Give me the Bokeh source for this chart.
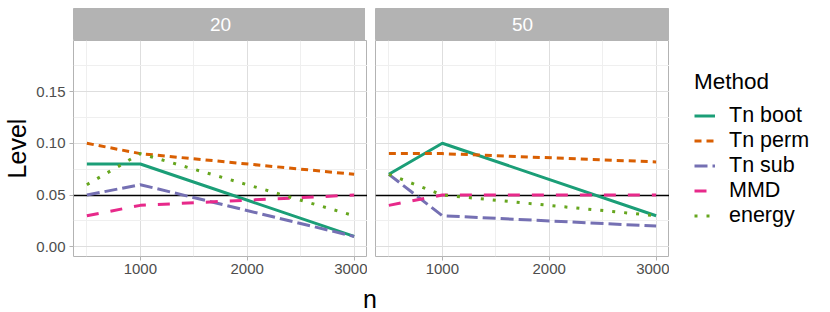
from bokeh.plotting import figure
from bokeh.models import Range1d, FixedTicker, Legend, LegendItem, PrintfTickFormatter
from bokeh.layouts import row, column
from bokeh.embed import file_html
from bokeh.resources import INLINE
from bokeh.core.properties import value

FONT = "Liberation Sans"

# ---------------- data ----------------
n_sizes = [500, 1000, 3000]
facet_labels = ["20", "50"]
method_names = ["Tn boot", "Tn perm", "Tn sub", "MMD", "energy"]

tn_boot_20 = [0.08, 0.08, 0.01]
tn_perm_20 = [0.10, 0.09, 0.07]
tn_sub_20 = [0.05, 0.06, 0.01]
mmd_20 = [0.03, 0.04, 0.05]
energy_20 = [0.06, 0.09, 0.03]

tn_boot_50 = [0.07, 0.10, 0.03]
tn_perm_50 = [0.09, 0.09, 0.082]
tn_sub_50 = [0.07, 0.03, 0.02]
mmd_50 = [0.04, 0.05, 0.05]
energy_50 = [0.07, 0.05, 0.03]

nominal_level = 0.05

x_major = [1000, 2000, 3000]
x_minor = [500, 1500, 2500]
x_tick_labels = ["1000", "2000", "3000"]
y_major = [0.0, 0.05, 0.10, 0.15]
y_minor = [0.025, 0.075, 0.125, 0.175]
y_tick_labels = ["0.00", "0.05", "0.10", "0.15"]

x_title = "n"
y_title = "Level"
legend_title = "Method"

series_by_facet = [
    [tn_boot_20, tn_perm_20, tn_sub_20, mmd_20, energy_20],
    [tn_boot_50, tn_perm_50, tn_sub_50, mmd_50, energy_50],
]

# ---------------- style ----------------
colors = ["#1B9E77", "#D95F02", "#7570B3", "#E7298A", "#66A61E"]
dashes = ["solid", "7 5", "13 5", "12 12", "3 9"]
LINE_W = 3

TOP = 8
FRAME_W = 294
FRAME_H = 216
STRIP_H = 32
LEFT1 = 71
GAP = 8
BOTTOM = 27
TOTAL_H = TOP + STRIP_H + FRAME_H + BOTTOM
LEG_W = 830 - (LEFT1 + FRAME_W + GAP + FRAME_W)
X_RANGE = (375, 3125)
Y_RANGE = (-0.0094, 0.1993)
BORDER = "#B3B3B3"


def make_strip(label, left):
    s = figure(frame_width=FRAME_W, frame_height=STRIP_H, min_border=0,
               min_border_left=left, min_border_top=TOP,
               x_range=Range1d(0, 1), y_range=Range1d(0, 1),
               x_axis_type=None, y_axis_type=None, toolbar_location=None,
               output_backend="svg", background_fill_color=BORDER,
               outline_line_color=BORDER)
    s.text(x=[0.5], y=[0.5], text=[label], text_align="center",
           text_baseline="middle", text_color="white",
           text_font=value(FONT), text_font_size="19px")
    return s


def style_axis(ax):
    ax.axis_line_color = None
    ax.major_tick_in = 0
    ax.major_tick_out = 4
    ax.major_tick_line_color = BORDER
    ax.minor_tick_in = 0
    ax.minor_tick_out = 0
    ax.major_label_text_font = FONT
    ax.major_label_text_font_size = "15px"
    ax.major_label_text_color = "#4D4D4D"


def add_lines(p, series, **kw):
    out = []
    for vals, c, d in zip(series, colors, dashes):
        out.append(p.line(x=n_sizes, y=vals, line_color=c,
                          line_width=LINE_W, line_dash=d, **kw))
    return out


def make_panel(series, left, show_y):
    p = figure(frame_width=FRAME_W, frame_height=FRAME_H, min_border=0,
               min_border_left=left, min_border_bottom=BOTTOM,
               x_range=Range1d(*X_RANGE), y_range=Range1d(*Y_RANGE),
               toolbar_location=None, output_backend="svg",
               y_axis_location="left" if show_y else None,
               outline_line_color=BORDER, outline_line_width=1)
    xt = FixedTicker(ticks=x_major, minor_ticks=x_minor)
    yt = FixedTicker(ticks=y_major, minor_ticks=y_minor)
    p.xaxis.ticker = xt
    p.xaxis.major_label_overrides = dict(zip(x_major, x_tick_labels))
    style_axis(p.xaxis[0])
    p.xaxis.major_label_standoff = 3
    if show_y:
        p.yaxis.ticker = yt
        p.yaxis.formatter = PrintfTickFormatter(format="%.2f")
        p.yaxis.major_label_overrides = dict(zip(y_major, y_tick_labels))
        style_axis(p.yaxis[0])
        p.yaxis.major_label_standoff = 4
        p.yaxis.axis_label = y_title
        p.yaxis.axis_label_text_font = FONT
        p.yaxis.axis_label_text_font_size = "25px"
        p.yaxis.axis_label_text_font_style = "normal"
        p.yaxis.axis_label_text_color = "black"
        p.yaxis.axis_label_standoff = 2
    p.xgrid.ticker = xt
    p.ygrid.ticker = yt
    for g in (p.xgrid, p.ygrid):
        g.grid_line_color = "#DEDEDE"
        g.grid_line_width = 1
        g.minor_grid_line_color = "#EFEFEF"
        g.minor_grid_line_width = 1
    p.hspan(y=[nominal_level], line_color="black", line_width=1.3)
    add_lines(p, series)
    return p


strip1 = make_strip(facet_labels[0], LEFT1)
panel1 = make_panel(series_by_facet[0], LEFT1, True)
strip2 = make_strip(facet_labels[1], GAP)
panel2 = make_panel(series_by_facet[1], GAP, False)

# legend figure (keys come from hidden copies of the series)
lf = figure(width=LEG_W, height=TOTAL_H, min_border=0, min_border_top=44,
            x_range=Range1d(*X_RANGE), y_range=Range1d(*Y_RANGE),
            x_axis_type=None, y_axis_type=None, toolbar_location=None,
            output_backend="svg", outline_line_color=None)
lrend = add_lines(lf, series_by_facet[1], visible=False)
items = [LegendItem(label=name, renderers=[r]) for name, r in zip(method_names, lrend)]
legend = Legend(items=items, location="top_left", title=legend_title,
                margin=25, padding=0, spacing=0,
                glyph_width=21, glyph_height=25, label_height=25,
                label_standoff=14, title_standoff=8,
                border_line_color=None, background_fill_alpha=0,
                label_text_font=FONT, label_text_font_size="21.5px",
                label_text_color="black",
                title_text_font=FONT, title_text_font_size="22.5px",
                title_text_color="black", title_text_font_style="normal")
lf.add_layout(legend)

# x title
NF_W = LEFT1 + FRAME_W + GAP + FRAME_W
NF_H = 312 - TOTAL_H
nf = figure(width=NF_W, height=NF_H, min_border=0,
            x_range=Range1d(0, NF_W), y_range=Range1d(0, NF_H),
            x_axis_type=None, y_axis_type=None, toolbar_location=None,
            output_backend="svg", outline_line_color=None)
nf.text(x=[369.5], y=[NF_H - 15], text=[x_title], text_align="center",
        text_baseline="alphabetic", text_color="black",
        text_font=value(FONT), text_font_size="25px")

layout = column(
    row(column(strip1, panel1), column(strip2, panel2), lf),
    nf,
)

open("out.html", "w").write(file_html(layout, INLINE))
